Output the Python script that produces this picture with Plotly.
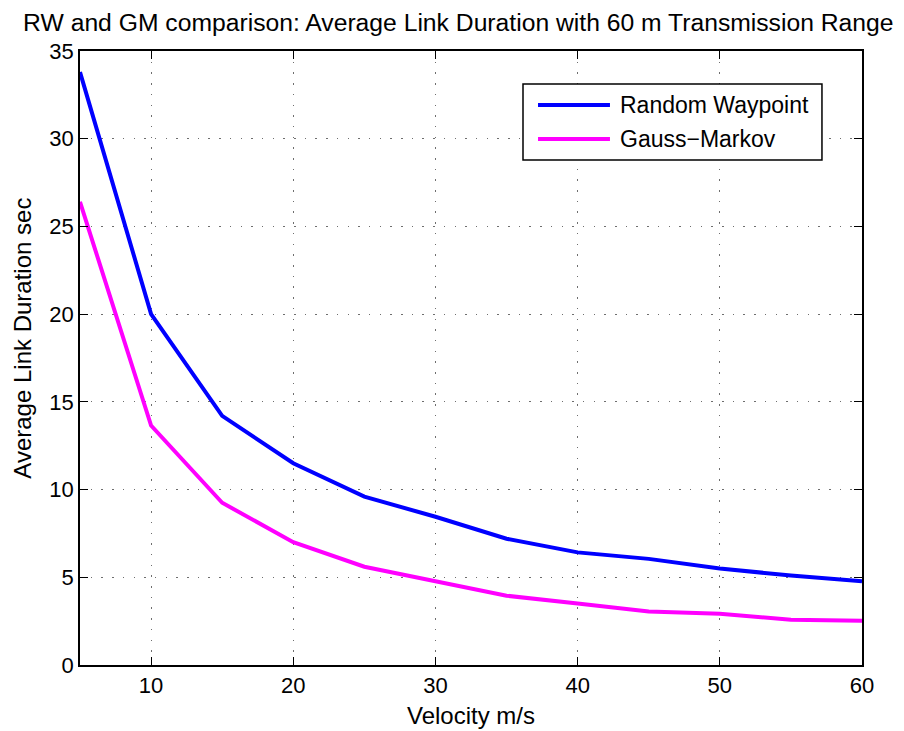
import plotly.graph_objects as go

# Velocity (m/s) and average link duration (s) for both mobility models
velocity = [5, 10, 15, 20, 25, 30, 35, 40, 45, 50, 55, 60]
random_waypoint = [33.8, 20.0, 14.2, 11.5, 9.6, 8.45, 7.2, 6.42, 6.05, 5.5, 5.1, 4.78]
gauss_markov = [26.4, 13.65, 9.25, 7.0, 5.6, 4.75, 3.95, 3.5, 3.05, 2.92, 2.58, 2.52]

series_names = ["Random Waypoint", "Gauss\u2212Markov"]
series_colors = ["#0000ff", "#ff00ff"]

x_ticks = [10, 20, 30, 40, 50, 60]
y_ticks = [0, 5, 10, 15, 20, 25, 30, 35]

font_family = "Liberation Sans, Arial, sans-serif"

fig = go.Figure()
for yvals, name, color in zip([random_waypoint, gauss_markov], series_names, series_colors):
    fig.add_trace(go.Scatter(x=velocity, y=yvals, mode="lines", name=name,
                             line=dict(color=color, width=4), showlegend=False))

axis_common = dict(
    showline=True, linecolor="black", linewidth=1.8, mirror="ticks",
    ticks="inside", ticklen=8, tickcolor="black", tickwidth=1,
    showgrid=True, gridcolor="#6e6e6e", gridwidth=1.3, griddash="1.5px,9.2px",
    zeroline=False, automargin=False,
    tickfont=dict(family=font_family, size=22, color="black"),
)

# Legend box drawn in paper coordinates, top-right inside the axes
box = dict(x0=0.5665, x1=0.9488, y0=0.8225, y1=0.9463)
row_y = [0.912, 0.8567]
sample_x = (0.5857, 0.6777)
label_x = 0.688

shapes = [dict(type="rect", xref="paper", yref="paper", layer="above",
               fillcolor="white", line=dict(color="black", width=1.5), **box)]
annotations = []
for yy, name, color in zip(row_y, series_names, series_colors):
    shapes.append(dict(type="line", xref="paper", yref="paper", layer="above",
                       x0=sample_x[0], x1=sample_x[1], y0=yy, y1=yy,
                       line=dict(color=color, width=4)))
    annotations.append(dict(xref="paper", yref="paper", x=label_x, y=yy,
                            xanchor="left", yanchor="middle", showarrow=False,
                            text=name,
                            font=dict(family=font_family, size=23, color="black")))

# Y-axis title placed left of the tick labels
annotations.append(dict(xref="paper", yref="paper", x=-0.073, y=0.533,
                        xanchor="center", yanchor="middle", showarrow=False,
                        textangle=-90, text="Average Link Duration sec",
                        font=dict(family=font_family, size=24, color="black")))

fig.update_layout(
    width=904, height=731,
    margin=dict(l=80, r=42, t=51, b=66),
    paper_bgcolor="white", plot_bgcolor="white",
    title=dict(text="RW and GM comparison: Average Link Duration with 60 m Transmission Range",
               x=0.507, xanchor="center", y=0.969, yanchor="middle",
               font=dict(family=font_family, size=24.7, color="black")),
    xaxis=dict(range=[5, 60], tickvals=x_ticks,
               title=dict(text="Velocity m/s", standoff=10,
                          font=dict(family=font_family, size=24, color="black")),
               **axis_common),
    yaxis=dict(range=[0, 35], tickvals=y_ticks, **axis_common),
    shapes=shapes,
    annotations=annotations,
    showlegend=False,
)

fig.write_html("out.html")
